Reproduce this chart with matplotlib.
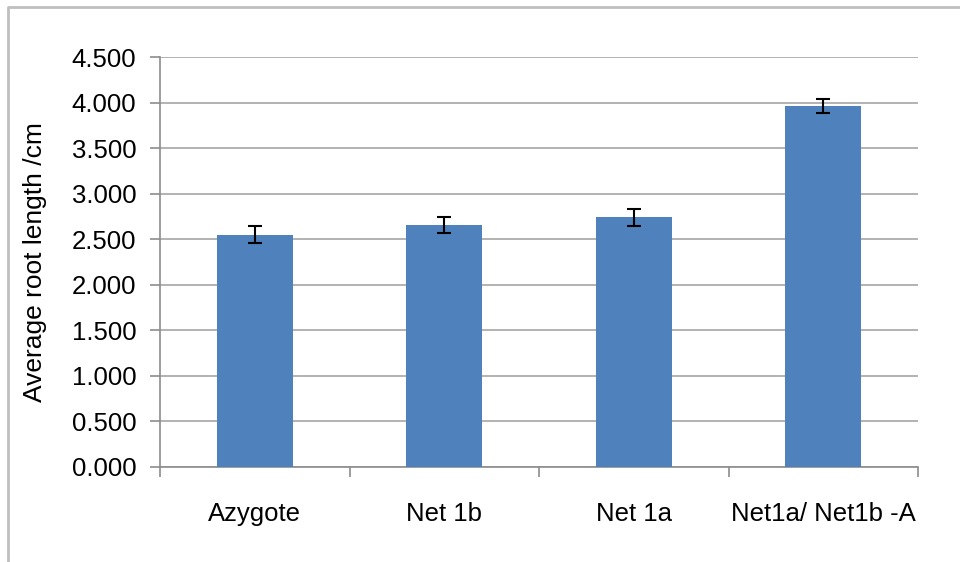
import matplotlib.pyplot as plt
from matplotlib.lines import Line2D
from matplotlib.ticker import FormatStrFormatter

# Données
categories = ['Azygote', 'Net 1b', 'Net 1a', 'Net1a/ Net1b -A']
longueurs = [2.55, 2.655, 2.74, 3.965]
erreurs = [0.09, 0.085, 0.095, 0.075]

plt.rcParams['font.family'] = ['Liberation Sans', 'DejaVu Sans']

fig = plt.figure(figsize=(9.6, 5.62), dpi=100)
ax = fig.add_axes([160 / 960, 1 - 467 / 562, 758 / 960, 410 / 562])

# cadre gris (seuls les bords haut et gauche sont visibles)
fig.add_artist(Line2D([8 / 960, 8 / 960, 1], [0, 1 - 7 / 562, 1 - 7 / 562],
                      transform=fig.transFigure, color='#BFBFBF', linewidth=2))

x = list(range(len(categories)))
ax.bar(x, longueurs, width=0.4, color='#4F81BD', zorder=3)
ax.errorbar(x, longueurs, yerr=erreurs, fmt='none', ecolor='black',
            elinewidth=1.5, capsize=5, capthick=1.5, zorder=4)

ax.set_xlim(-0.5, 3.5)
ax.set_ylim(0, 4.5)
ax.set_yticks([i * 0.5 for i in range(10)])
ax.yaxis.set_major_formatter(FormatStrFormatter('%.3f'))
ax.grid(axis='y', color='#A6A6A6', linewidth=1.2, zorder=0)

# graduations de l'axe x aux limites des catégories
ax.set_xticks([-0.5, 0.5, 1.5, 2.5, 3.5])
ax.set_xticklabels([])
ax.set_xticks(x, minor=True)
ax.set_xticklabels(categories, minor=True, fontsize=18.5)
ax.tick_params(axis='x', which='minor', length=0, pad=25)
ax.tick_params(axis='x', which='major', length=7, color='#8C8C8C', width=1.2)
ax.tick_params(axis='y', length=7, color='#8C8C8C', width=1.2, labelsize=18.5, pad=10)

for s in ['top', 'right']:
    ax.spines[s].set_visible(False)
for s in ['left', 'bottom']:
    ax.spines[s].set_color('#8C8C8C')
    ax.spines[s].set_linewidth(1.2)

ax.set_ylabel('Average root length /cm', fontsize=19)
ax.yaxis.set_label_coords(-113 / 758, 0.5)

fig.savefig('out.png', dpi=100)
